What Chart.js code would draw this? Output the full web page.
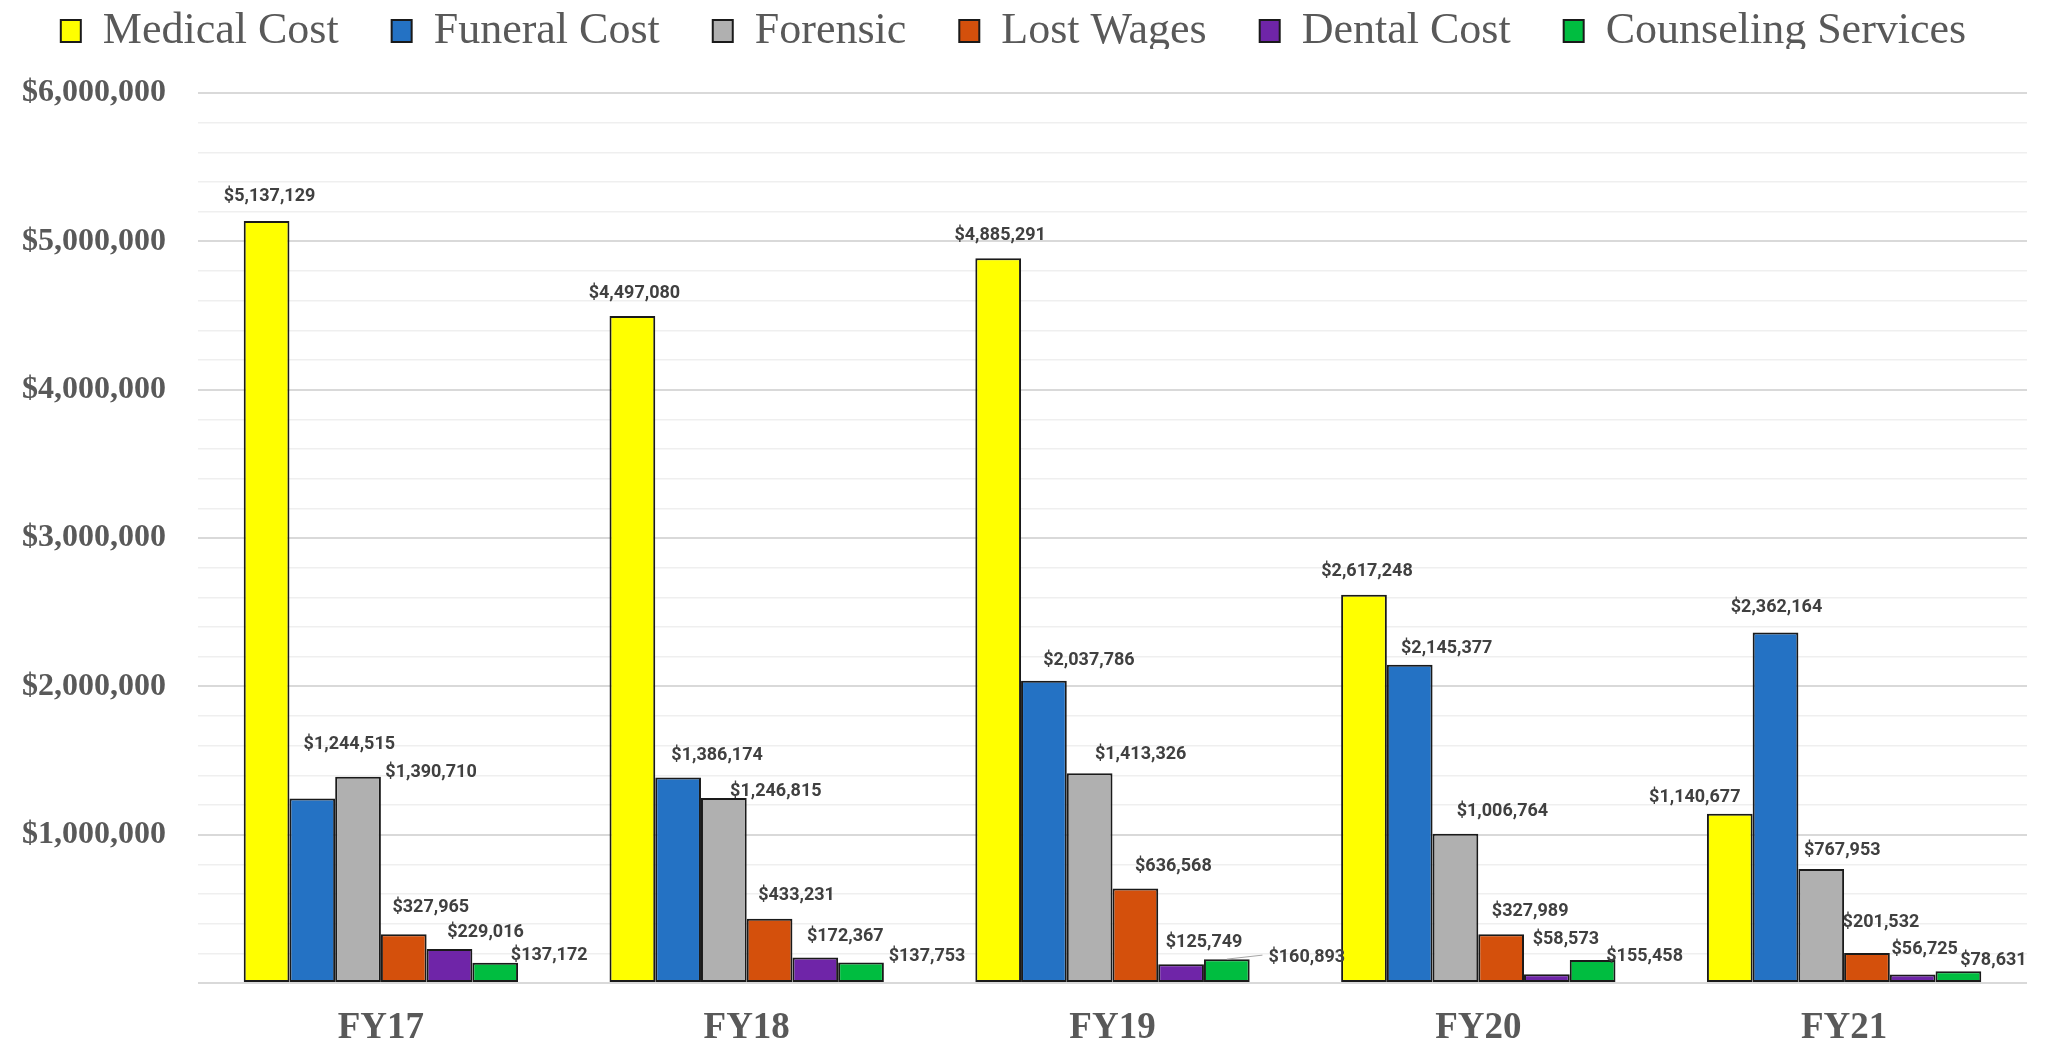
<!DOCTYPE html>
<html>
<head>
<meta charset="utf-8">
<script src="https://cdn.jsdelivr.net/npm/chart.js@4.4.1/dist/chart.umd.min.js"></script>
<style>
  html, body { margin: 0; padding: 0; background: #fff; }
  #wrap { width: 2047px; height: 1046px; }
</style>
</head>
<body>
<div id="wrap"><canvas id="costchart" width="2047" height="1046"></canvas></div>
<script>
const years = ["FY17", "FY18", "FY19", "FY20", "FY21"];
const medicalCost = [5137129, 4497080, 4885291, 2617248, 1140677];
const funeralCost = [1244515, 1386174, 2037786, 2145377, 2362164];
const forensic = [1390710, 1246815, 1413326, 1006764, 767953];
const lostWages = [327965, 433231, 636568, 327989, 201532];
const dentalCost = [229016, 172367, 125749, 58573, 56725];
const counselingServices = [137172, 137753, 160893, 155458, 78631];

// where each value label sits, relative to the top centre of its bar (px)
const labelNudge = [
  [[3, -24], [2, -22], [2, -23], [3, -23], [-35, -16]],
  [[37, -54], [39, -22], [45, -20], [37, -16], [1, -25]],
  [[73, -4], [52, -7], [51, -19], [47, -22], [21, -19]],
  [[27, -27], [27, -23], [38, -22], [29, -23], [14, -31]],
  [[36, -17], [30, -21], [23, -22], [19, -35], [12, -25]],
  [[54, -7], [66, -6], [80, -2], [52, -3], [35, -11]],
];
const leaderLines = [[5, 2]];

const greyText = "#595959";

function bar(label, data, color) {
  return {
    label: label,
    data: data,
    backgroundColor: color,
    borderColor: "#1a1a1a",
    borderWidth: 2,
    borderSkipped: false,
    barPercentage: 1,
    categoryPercentage: 0.75,
  };
}

const money = (v) => "$" + v.toLocaleString("en-US");

const barLabels = {
  id: "barLabels",
  afterDatasetsDraw(chart) {
    const ctx = chart.ctx;
    ctx.save();
    ctx.font = "bold 18px Roboto, 'Liberation Sans', sans-serif";
    ctx.fillStyle = "#404040";
    ctx.textAlign = "center";
    ctx.textBaseline = "middle";
    chart.data.datasets.forEach((ds, di) => {
      const meta = chart.getDatasetMeta(di);
      meta.data.forEach((el, i) => {
        const n = labelNudge[di][i];
        const text = money(ds.data[i]);
        const x = el.x + n[0];
        const y = el.y + n[1];
        if (leaderLines.some((l) => l[0] === di && l[1] === i)) {
          const w = ctx.measureText(text).width;
          ctx.strokeStyle = "#a6a6a6";
          ctx.lineWidth = 1;
          ctx.beginPath();
          ctx.moveTo(el.x, el.y);
          ctx.lineTo(x - w / 2 - 6, y - 2);
          ctx.stroke();
        }
        ctx.fillText(text, x, y);
      });
    });
    ctx.restore();
  },
};

// legend needs wide item spacing but must sit close to the top edge
const legendLift = {
  id: "legendLift",
  afterLayout(chart) {
    const lg = chart.legend;
    lg.top -= 44;
    lg.bottom -= 44;
  },
};

const chart = new Chart(document.getElementById("costchart").getContext("2d"), {
  type: "bar",
  data: {
    labels: years,
    datasets: [
      bar("Medical Cost", medicalCost, "#ffff00"),
      bar("Funeral Cost", funeralCost, "#2472c4"),
      bar("Forensic", forensic, "#b0b0b0"),
      bar("Lost Wages", lostWages, "#d4500c"),
      bar("Dental Cost", dentalCost, "#6f25a8"),
      bar("Counseling Services", counselingServices, "#00bd40"),
    ],
  },
  options: {
    responsive: false,
    animation: false,
    devicePixelRatio: 1,
    layout: { padding: { top: 0, right: 20, bottom: 0, left: 0 } },
    plugins: {
      tooltip: { enabled: false },
      legend: {
        position: "top",
        maxHeight: 93,
        labels: {
          boxWidth: 20,
          boxHeight: 22,
          padding: 53,
          color: greyText,
          font: { family: "'Liberation Serif', serif", size: 44 },
        },
      },
    },
    scales: {
      x: {
        grid: { display: false },
        border: { display: false },
        ticks: {
          color: greyText,
          padding: 15,
          font: { family: "'Liberation Serif', serif", size: 37, weight: "bold" },
        },
        afterFit: (scale) => { scale.height = 63; },
      },
      y: {
        min: 0,
        max: 6000000,
        border: { display: false },
        grid: {
          drawTicks: false,
          color: (c) => (c.tick.value % 1000000 === 0 ? "#d9d9d9" : "#efefef"),
          lineWidth: (c) => (c.tick.value % 1000000 === 0 ? 2 : 1.5),
        },
        ticks: {
          stepSize: 200000,
          autoSkip: false,
          padding: 32,
          color: greyText,
          font: { family: "'Liberation Serif', serif", size: 32, weight: "bold" },
          callback: (v) => (v > 0 && v % 1000000 === 0 ? money(v) : ""),
        },
        afterFit: (scale) => { scale.width = 198; },
      },
    },
  },
  plugins: [barLabels, legendLift],
});
</script>
</body>
</html>
